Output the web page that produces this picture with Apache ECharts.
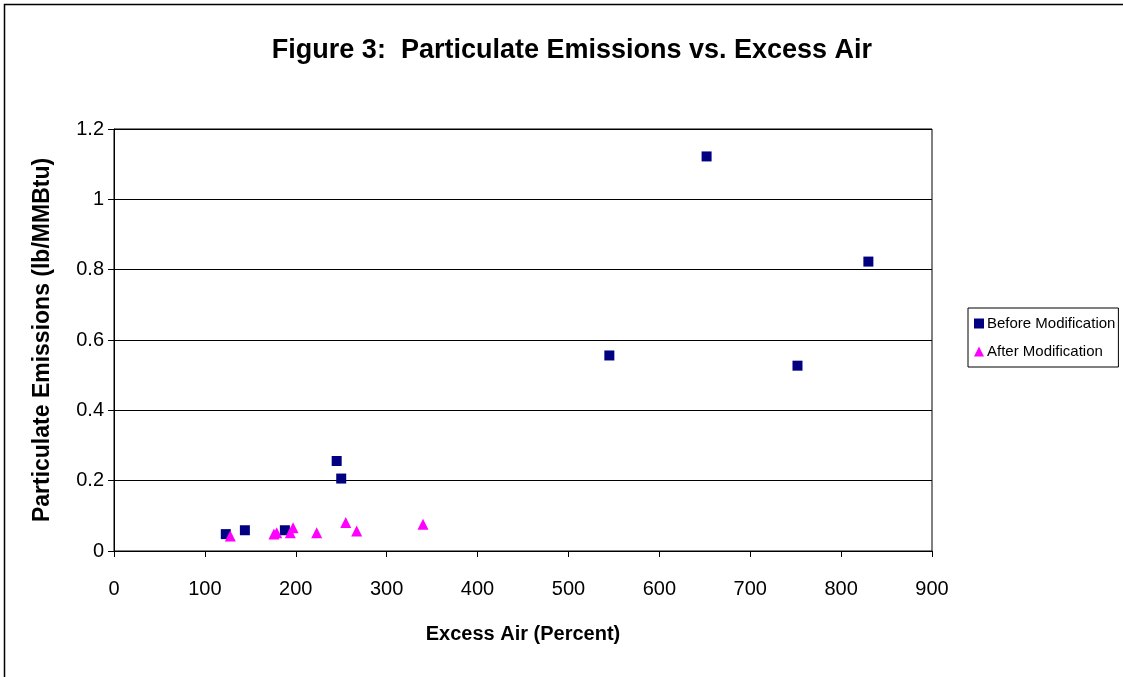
<!DOCTYPE html>
<html>
<head>
<meta charset="utf-8">
<script src="https://cdn.jsdelivr.net/npm/echarts@6/dist/echarts.min.js"></script>
<style>
html,body{margin:0;padding:0;background:#fff;}
#c{width:1123px;height:677px;}
</style>
</head>
<body>
<div id="c"></div>
<script>
const beforeX = [123, 144, 188, 245, 250, 545, 652, 752, 830];
const beforeY = [0.048, 0.059, 0.059, 0.256, 0.206, 0.556, 1.122, 0.527, 0.823];
const afterX = [128, 176, 179, 194, 197, 223, 255, 267, 340];
const afterY = [0.043, 0.048, 0.052, 0.052, 0.066, 0.052, 0.081, 0.057, 0.076];
const xTicks = [0, 100, 200, 300, 400, 500, 600, 700, 800, 900];
const yTicks = [0, 0.2, 0.4, 0.6, 0.8, 1, 1.2];

const FONT = '"Liberation Sans", Arial, sans-serif';
const chart = echarts.init(document.getElementById('c'));
const pair = (xs, ys) => xs.map((x, i) => [x, ys[i]]);

chart.setOption({
  animation: false,
  backgroundColor: '#fff',
  textStyle: { fontFamily: FONT },
  title: {
    text: 'Figure 3:  Particulate Emissions vs. Excess Air',
    left: 567, top: 32, textAlign: 'center',
    textStyle: { fontFamily: FONT, fontSize: 27, fontWeight: 'bold', color: '#000' }
  },
  grid: {
    left: 114, top: 129, width: 818, height: 422,
    show: true, borderColor: '#000', borderWidth: 1, backgroundColor: '#fff'
  },
  xAxis: {
    type: 'value', min: xTicks[0], max: xTicks[xTicks.length - 1], interval: 100,
    name: 'Excess Air (Percent)', nameLocation: 'middle', nameGap: 73,
    nameTextStyle: { fontFamily: FONT, fontSize: 20, fontWeight: 'bold', color: '#000' },
    axisLine: { lineStyle: { color: '#000', width: 1 } },
    axisTick: { show: true, length: 6, inside: false, lineStyle: { color: '#000' } },
    axisLabel: { fontFamily: FONT, fontSize: 20, color: '#000', margin: 28 },
    splitLine: { show: false }
  },
  yAxis: {
    type: 'value', min: yTicks[0], max: yTicks[yTicks.length - 1], interval: 0.2,
    name: 'Particulate Emissions (lb/MMBtu)', nameLocation: 'middle', nameGap: 60,
    nameTextStyle: { fontFamily: FONT, fontSize: 23, fontWeight: 'bold', color: '#000' },
    axisLine: { show: true, lineStyle: { color: '#000', width: 1 } },
    axisTick: { show: true, length: 6, inside: false, lineStyle: { color: '#000' } },
    axisLabel: { fontFamily: FONT, fontSize: 20, color: '#000', margin: 10 },
    splitLine: { show: true, lineStyle: { color: '#000', width: 1 } }
  },
  legend: {
    orient: 'vertical', left: 968, top: 308,
    borderColor: '#000', borderWidth: 1, padding: [8, 3, 8, 6],
    itemGap: 13, itemWidth: 10, itemHeight: 10,
    textStyle: { fontFamily: FONT, fontSize: 15, color: '#000', padding: [0, 0, 0, -2] },
    data: [
      { name: 'Before Modification', icon: 'rect' },
      { name: 'After Modification', icon: 'triangle' }
    ]
  },
  graphic: [
    { type: 'polyline', shape: { points: [[4.5, 700], [4.5, 4.5], [1130, 4.5]] },
      style: { stroke: '#000', lineWidth: 1.5, fill: null }, silent: true }
  ],
  series: [
    { name: 'Before Modification', type: 'scatter', symbol: 'rect', symbolSize: 10,
      itemStyle: { color: '#000080', opacity: 1 }, data: pair(beforeX, beforeY), z: 3 },
    { name: 'After Modification', type: 'scatter', symbol: 'triangle', symbolSize: 11,
      itemStyle: { color: '#FF00FF', opacity: 1 }, data: pair(afterX, afterY), z: 4 }
  ]
});
</script>
</body>
</html>
